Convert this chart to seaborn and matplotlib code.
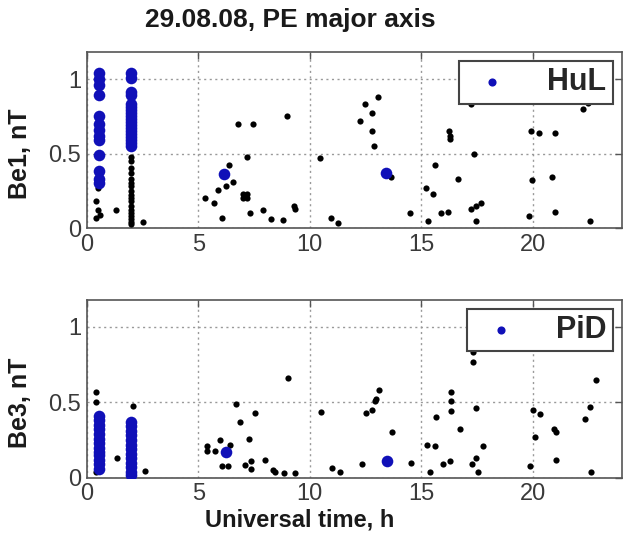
import matplotlib
matplotlib.use("Agg")
import matplotlib.pyplot as plt
import seaborn as sns
import pandas as pd

# Be1 (top panel) - all stations, black
be1_t = [0.43, 0.51, 0.6, 0.43, 1.3, 0.5,
         2.0, 2.0, 2.0, 2.0, 2.0, 2.0, 2.0, 2.0, 2.0, 2.0, 2.0, 2.0, 2.0, 2.0, 2.0, 2.0, 2.0, 2.0,
         2.5, 5.32, 5.71, 5.9, 6.04, 6.26, 6.38, 6.56, 6.79, 7.19, 7.46, 7.0, 7.2, 7.0, 7.2,
         7.3, 7.9, 8.28, 8.8, 8.98, 9.3, 9.32,
         10.48, 10.94, 11.27, 12.47, 13.04, 12.24, 12.78, 12.81, 12.87, 13.66,
         14.48, 15.2, 15.3, 15.53, 15.6, 15.9, 16.2, 16.26, 16.28, 16.3, 16.65,
         17.25, 17.22, 17.44, 17.7, 17.37, 17.44, 19.94, 20.27, 21.0, 19.98, 20.88,
         19.83, 21.0, 22.26, 22.48, 22.56]
be1_v = [0.18, 0.12, 0.09, 0.07, 0.12, 0.27,
         0.48, 0.45, 0.4, 0.37, 0.33, 0.3, 0.28, 0.25, 0.22, 0.2, 0.18, 0.15, 0.12, 0.1, 0.08, 0.06, 0.04, 0.03,
         0.04, 0.2, 0.17, 0.255, 0.07, 0.28, 0.42, 0.31, 0.70, 0.48, 0.70, 0.23, 0.23, 0.2, 0.2,
         0.1, 0.12, 0.06, 0.055, 0.75, 0.15, 0.13,
         0.47, 0.07, 0.036, 0.83, 0.88, 0.72, 0.77, 0.65, 0.55, 0.34,
         0.1, 0.27, 0.05, 0.23, 0.42, 0.1, 0.11, 0.65, 0.62, 0.6, 0.33,
         0.83, 0.13, 0.15, 0.17, 0.5, 0.05, 0.65, 0.64, 0.64, 0.32, 0.34,
         0.08, 0.105, 0.8, 0.84, 0.05]

# Be1 - HuL station, blue
hul_t = [0.54] * 13 + [1.96] * 19 + [6.14, 13.44]
hul_v = [1.04, 1.0, 0.96, 0.89, 0.75, 0.70, 0.66, 0.62, 0.59, 0.49, 0.38, 0.33, 0.30,
         1.04, 1.01, 0.915, 0.89, 0.83, 0.81, 0.79, 0.77, 0.75, 0.73, 0.71, 0.69, 0.67,
         0.65, 0.63, 0.61, 0.59, 0.57, 0.55,
         0.36, 0.37]

# Be3 (bottom panel) - all stations, black
be3_t = [0.43, 0.43, 2.08, 1.36, 0.43, 2.6, 2.0,
         5.4, 5.4, 5.74, 5.96, 6.41, 6.07, 6.34, 6.67, 6.86, 7.28, 7.53, 7.08, 7.38, 7.38,
         8.01, 8.33, 8.43, 8.85, 9.03, 9.33,
         10.52, 11.0, 11.35, 12.32, 12.54, 12.81, 12.91, 12.96, 13.09, 13.71, 14.56,
         15.28, 15.6, 15.38, 15.65, 15.98, 16.28, 16.35, 16.35, 16.35, 16.73,
         17.32, 17.32, 17.44, 17.77, 17.28, 17.47, 17.55,
         20.01, 20.31, 20.09, 19.9, 20.94, 21.03, 21.06, 22.33, 22.56, 22.86, 22.63]
be3_v = [0.57, 0.5, 0.475, 0.13, 0.04, 0.045, 0.04,
         0.21, 0.175, 0.18, 0.25, 0.22, 0.075, 0.075, 0.49, 0.37, 0.26, 0.43, 0.085, 0.11, 0.055,
         0.12, 0.05, 0.04, 0.03, 0.66, 0.03,
         0.435, 0.065, 0.035, 0.09, 0.43, 0.45, 0.51, 0.52, 0.58, 0.3, 0.1,
         0.22, 0.21, 0.035, 0.4, 0.09, 0.11, 0.57, 0.51, 0.44, 0.32,
         0.83, 0.77, 0.46, 0.21, 0.09, 0.13, 0.04,
         0.45, 0.42, 0.27, 0.08, 0.32, 0.30, 0.115, 0.39, 0.47, 0.65, 0.04]

# Be3 - PiD station, blue
pid_t = [0.55] * 13 + [1.98] * 13 + [6.22, 13.48]
pid_v = [0.41, 0.38, 0.35, 0.32, 0.29, 0.26, 0.23, 0.2, 0.17, 0.15, 0.12, 0.09, 0.06,
         0.37, 0.34, 0.31, 0.28, 0.25, 0.22, 0.19, 0.16, 0.13, 0.1, 0.07, 0.04, 0.02,
         0.17, 0.11]

x_ticks = [0, 5, 10, 15, 20]
y_ticks = [0, 0.5, 1]
y_tick_labels = ["0", "0.5", "1"]

sns.set_style("white")
plt.rcParams['font.family'] = ['Liberation Sans', 'DejaVu Sans']

fig = plt.figure(figsize=(6.25, 5.38), dpi=100)
ax1 = fig.add_axes([0.139, 0.576, 0.856, 0.327])
ax2 = fig.add_axes([0.139, 0.112, 0.856, 0.331])

blue = "#1010b8"
panels = [
    (ax1, be1_t, be1_v, hul_t, hul_v, "HuL", "Be1, nT"),
    (ax2, be3_t, be3_v, pid_t, pid_v, "PiD", "Be3, nT"),
]
for ax, bt, bv, st, sv, station, ylab in panels:
    df_all = pd.DataFrame({"t": bt, "v": bv})
    df_st = pd.DataFrame({"t": st, "v": sv})
    sns.scatterplot(data=df_all, x="t", y="v", ax=ax, color="black", s=20,
                    linewidth=0, legend=False, zorder=3)
    sns.scatterplot(data=df_st, x="t", y="v", ax=ax, color=blue, s=70,
                    linewidth=0, label=station, zorder=4)
    ax.set_xlim(0, 24)
    ax.set_ylim(0, 1.18)
    ax.set_xticks(x_ticks)
    ax.set_yticks(y_ticks)
    ax.set_yticklabels(y_tick_labels)
    ax.set_xlabel("")
    ax.set_ylabel("")
    ax.grid(True, linestyle=(0, (1.5, 2.5)), color="#999999", linewidth=1.0)
    ax.tick_params(direction="in", length=5, width=1, top=True, right=True,
                   labelsize=17, labelcolor="#3a3a3a", color="#555555", pad=4)
    for sp in ax.spines.values():
        sp.set_color("#555555")
        sp.set_linewidth(1.2)
    leg = ax.legend(loc="upper right", markerscale=0.7,
                    handletextpad=0.9, borderpad=0.2, borderaxespad=0.3,
                    fancybox=False, framealpha=1, handlelength=1.8,
                    prop={"weight": "bold", "size": 22})
    leg.get_frame().set_edgecolor("#444444")
    leg.get_frame().set_linewidth(1.5)
    fig.text(0.032, ax.get_position().y0 + ax.get_position().height * 0.42, ylab,
             rotation=90, ha="center", va="center", fontsize=18, fontweight="bold",
             color="#1a1a1a")

fig.text(0.464, 0.963, "29.08.08, PE major axis", ha="center", va="center",
         fontsize=19, fontweight="bold", color="#1a1a1a")
fig.text(0.48, 0.033, "Universal time, h", ha="center", va="center",
         fontsize=17, fontweight="bold", color="#1a1a1a")

fig.savefig("out.png", dpi=100, facecolor="white")
